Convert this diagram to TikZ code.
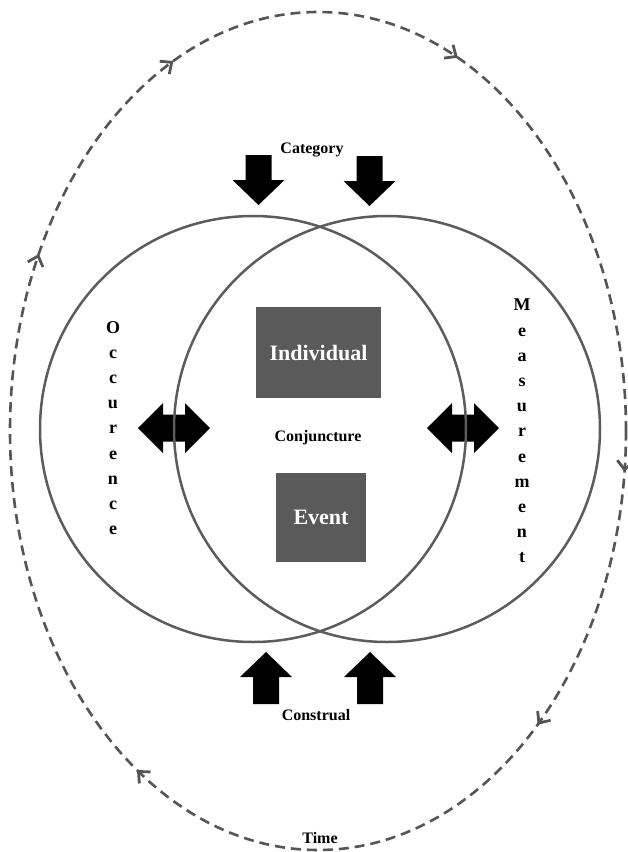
\documentclass[tikz,border=0pt]{standalone}
\usepackage{fontspec}
\setmainfont{Liberation Serif}
\usetikzlibrary{arrows.meta,calc}
\definecolor{boxgray}{HTML}{5A5A5A}
\definecolor{ringgray}{HTML}{5C5C5C}
\definecolor{dashgray}{HTML}{555555}
\begin{document}
\begin{tikzpicture}[x=1pt,y=-1pt,
  lbl/.style={font=\bfseries\fontsize{16}{19}\selectfont, text=black, inner sep=0pt},
  vlbl/.style={font=\bfseries\fontsize{18}{25.2}\selectfont, text=black, inner sep=0pt, align=center},
  box/.style={fill=boxgray, text=white, font=\bfseries\fontsize{22}{26}\selectfont, inner sep=0pt},
  ring/.style={draw=ringgray, line width=2.5pt},
  timeline/.style={draw=dashgray, line width=2.6pt, dash pattern=on 10pt off 6pt},
  tiparrow/.style={draw=dashgray, line width=2.6pt, -{Straight Barb[length=9pt,width=16pt,line width=2.8pt]}},
  downarr/.pic={\fill[black] (0,0) -- (-26,-25) -- (-13,-25) -- (-13,-50) -- (13,-50) -- (13,-25) -- (26,-25) -- cycle;},
  uparr/.pic={\fill[black] (0,0) -- (-26,25) -- (-13,25) -- (-13,52) -- (13,52) -- (13,25) -- (26,25) -- cycle;},
  dblarr/.pic={\fill[black] (-36,0) -- (-11,-25) -- (-11,-13.5) -- (11,-13.5) -- (11,-25) -- (36,0) -- (11,25) -- (11,13.5) -- (-11,13.5) -- (-11,25) -- cycle;}
]
\useasboundingbox (0,0) rectangle (628,852);

% outer time cycle
\coordinate (tc) at (318,431);
\draw[timeline] (tc) ellipse [x radius=308pt, y radius=419pt];
\foreach \t in {5.6,44.5,126,205,242,297}{
  \draw[tiparrow] ($(tc)+({308*cos(\t-0.6)},{419*sin(\t-0.6)})$) -- ($(tc)+({308*cos(\t)},{419*sin(\t)})$);
}

% block arrows
\pic at (258.5,205) {downarr};
\pic at (369.5,206) {downarr};
\pic at (266,652) {uparr};
\pic at (370,652) {uparr};
\pic at (174,428) {dblarr};
\pic at (463,428) {dblarr};

% circles
\coordinate (lc) at (253,429);
\coordinate (rc) at (387,429);
\draw[ring] (lc) circle [radius=213pt];
\draw[ring] (rc) circle [radius=213pt];

% boxes
\node[box, minimum width=125pt, minimum height=91pt] (ind) at (318.5,352.5) {Individual};
\node[box, minimum width=90pt, minimum height=89pt] (evt) at (321,517.5) {Event};

% labels
\node[lbl] (cat) at (312,150) {Category};
\node[lbl] (conj) at (318,438) {Conjuncture};
\node[lbl] (cons) at (316,715) {Construal};
\node[lbl] (time) at (320,838) {Time};
\node[vlbl] (occ) at (113,428) {O\\c\\c\\u\\r\\e\\n\\c\\e};
\node[vlbl] (meas) at (522,431) {M\\e\\a\\s\\u\\r\\e\\m\\e\\n\\t};
\end{tikzpicture}
\end{document}
